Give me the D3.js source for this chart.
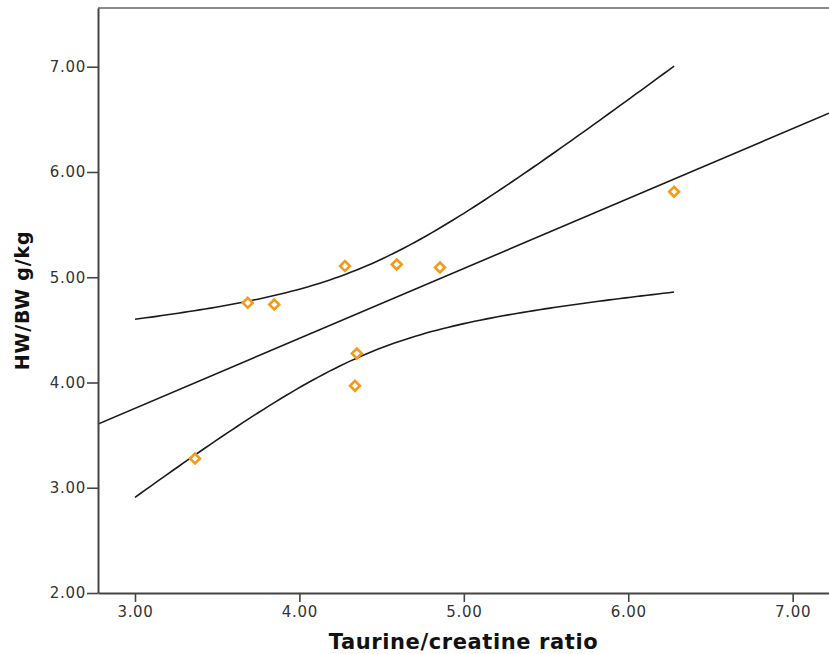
<!DOCTYPE html>
<html>
<head>
<meta charset="utf-8">
<script src="https://cdn.jsdelivr.net/npm/d3@7"></script>
<style>
  html, body { margin: 0; padding: 0; background: #fff; }
  svg { display: block; }
  .tick text { font-family: "DejaVu Sans", Verdana, sans-serif; font-size: 15px; fill: #333; letter-spacing: 0.7px; }
  .axis-title { font-family: "DejaVu Sans", Verdana, sans-serif; font-weight: bold; fill: #111; }
</style>
</head>
<body>
<svg id="chart" width="829" height="654"></svg>
<script>
// Taurine/creatine ratio (x) vs heart weight / body weight (y)
const taurineRatio = [3.365, 3.686, 3.847, 4.277, 4.592, 4.855, 4.349, 4.338, 6.279];
const hwbw         = [3.278, 4.757, 4.741, 5.106, 5.122, 5.093, 4.276, 3.968, 5.812];

const xTicks = [3, 4, 5, 6, 7];
const yTicks = [2, 3, 4, 5, 6, 7];
const xDomain = [2.775, 7.221];
const yDomain = [2.0, 7.558];
const ciRange = [3.0, 6.279];      // span of the 95% mean confidence band
const tCrit = 2.365;               // t(0.975, df = 7)

const W = 829, H = 654;
const m = { left: 98, right: 0, top: 8, bottom: 61 };

const svg = d3.select("#chart");
const x = d3.scaleLinear().domain(xDomain).range([m.left, W - m.right]);
const y = d3.scaleLinear().domain(yDomain).range([H - m.bottom, m.top]);

// Least-squares fit and confidence band for the mean response
const n = taurineRatio.length;
const xm = d3.mean(taurineRatio), ym = d3.mean(hwbw);
const sxx = d3.sum(taurineRatio, v => (v - xm) ** 2);
const sxy = d3.sum(taurineRatio.map((v, i) => (v - xm) * (hwbw[i] - ym)));
const slope = sxy / sxx, intercept = ym - slope * xm;
const sse = d3.sum(taurineRatio.map((v, i) => (hwbw[i] - (intercept + slope * v)) ** 2));
const s = Math.sqrt(sse / (n - 2));
const fit = v => intercept + slope * v;
const half = v => tCrit * s * Math.sqrt(1 / n + (v - xm) ** 2 / sxx);

svg.append("defs").append("clipPath").attr("id", "plot-clip")
  .append("rect").attr("x", m.left).attr("y", m.top)
  .attr("width", W - m.left - m.right).attr("height", H - m.top - m.bottom);

// top frame line
svg.append("line")
  .attr("x1", m.left).attr("x2", W).attr("y1", m.top).attr("y2", m.top)
  .attr("stroke", "#8a8a8a").attr("stroke-width", 2);

const lineGen = d3.line().x(d => x(d[0])).y(d => y(d[1]));
const g = svg.append("g").attr("clip-path", "url(#plot-clip)");

g.append("path")
  .attr("d", lineGen(xDomain.map(v => [v, fit(v)])))
  .attr("fill", "none").attr("stroke", "#1a1a1a").attr("stroke-width", 1.6);

const band = d3.range(0, 101).map(k => ciRange[0] + (ciRange[1] - ciRange[0]) * k / 100);
[1, -1].forEach(sign => {
  g.append("path")
    .attr("d", lineGen(band.map(v => [v, fit(v) + sign * half(v)])))
    .attr("fill", "none").attr("stroke", "#1a1a1a").attr("stroke-width", 1.6);
});

// data markers: open orange diamonds
const diamond = d3.symbol().type(d3.symbolDiamond2).size(62);
svg.append("g").selectAll("path")
  .data(taurineRatio.map((v, i) => [v, hwbw[i]]))
  .join("path")
  .attr("d", diamond)
  .attr("transform", d => `translate(${x(d[0])},${y(d[1])})`)
  .attr("fill", "#fff").attr("stroke", "#f59a17").attr("stroke-width", 2.6);

// axes
const xAxis = svg.append("g")
  .attr("transform", `translate(0,${H - m.bottom})`)
  .call(d3.axisBottom(x).tickValues(xTicks).tickFormat(d3.format(".2f")).tickSize(9).tickPadding(4).tickSizeOuter(0));
const yAxis = svg.append("g")
  .attr("transform", `translate(${m.left},0)`)
  .call(d3.axisLeft(y).tickValues(yTicks).tickFormat(d3.format(".2f")).tickSize(11).tickPadding(1).tickSizeOuter(0));
[xAxis, yAxis].forEach(a => {
  a.select(".domain").attr("stroke", "#444").attr("stroke-width", 2);
  a.selectAll(".tick line").attr("stroke", "#444").attr("stroke-width", 1.6);
});

// axis titles
svg.append("text").attr("class", "axis-title")
  .attr("x", (m.left + W) / 2).attr("y", 649)
  .attr("text-anchor", "middle").attr("font-size", 21).attr("letter-spacing", "0.6px")
  .text("Taurine/creatine ratio");
svg.append("text").attr("class", "axis-title")
  .attr("transform", `translate(29,${(m.top + H - m.bottom) / 2}) rotate(-90)`)
  .attr("text-anchor", "middle").attr("font-size", 19).attr("letter-spacing", "0.8px")
  .text("HW/BW g/kg");
</script>
</body>
</html>
